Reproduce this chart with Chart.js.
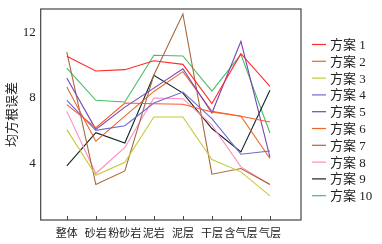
<!DOCTYPE html>
<html lang="zh">

<head>
    <title>均方根误差</title>
    <meta charset="utf-8">
    <script src="https://cdn.jsdelivr.net/npm/chart.js@4.4.0/dist/chart.umd.min.js"></script>
    <style>
        html, body { margin: 0; padding: 0; background: #fff; }
        #wrap { width: 382px; height: 244px; }
    </style>
</head>

<body>
    <div id="wrap"><canvas id="rmseChart"></canvas></div>
    <script type="text/javascript">
    // categories along the x axis
    var categories = ["整体", "砂岩", "粉砂岩", "泥岩", "泥层", "干层", "含气层", "气层"];
    var yTicks = [4, 8, 12];

    // one array per scheme
    var plan1 = [10.53, 9.64, 9.72, 10.26, 10.04, 7.66, 10.69, 8.71];
    var plan2 = [7.60, 6.20, 7.70, 7.65, 7.62, 7.15, 6.89, 6.55];
    var plan3 = [6.08, 3.31, 4.10, 6.85, 6.85, 4.27, 3.52, 2.06];
    var plan4 = [7.86, 6.04, 6.32, 7.70, 8.36, 6.75, 4.59, 4.79];
    var plan5 = [9.21, 6.10, 7.45, 8.60, 9.78, 7.09, 11.44, 4.42];
    var plan6 = [8.67, 5.38, 6.90, 8.40, 9.60, 7.20, 6.89, 4.33];
    var plan7 = [10.79, 2.75, 3.58, 9.40, 13.10, 3.38, 3.72, 2.75];
    var plan8 = [7.19, 3.42, 5.00, 8.00, 7.96, 6.35, 3.82, 2.75];
    var plan9 = [3.88, 5.90, 5.27, 9.38, 8.30, 6.15, 4.73, 8.47];
    var plan10 = [9.82, 7.86, 7.76, 10.59, 10.55, 8.42, 10.65, 5.88];

    var names = ["方案 1", "方案 2", "方案 3", "方案 4", "方案 5", "方案 6", "方案 7", "方案 8", "方案 9", "方案 10"];
    var series = [plan1, plan2, plan3, plan4, plan5, plan6, plan7, plan8, plan9, plan10];
    var colors = ["#ff2a2a", "#ff5a2a", "#c8c83a", "#6a6ad0", "#7a44b0", "#e8682a", "#a8683a", "#ff8cc0", "#122424", "#48bb66"];

    var serif = "'Liberation Serif', 'Noto Sans CJK SC', serif";

    var datasets = series.map(function(vals, i) {
        return {
            label: names[i],
            data: vals.map(function(v, j) { return { x: j, y: v }; }),
            borderColor: colors[i],
            backgroundColor: colors[i],
            borderWidth: 1.1,
            pointRadius: 0,
            tension: 0,
            fill: false
        };
    });

    // frame, inward x ticks and the legend on the right
    var extras = {
        id: "extras",
        afterDraw: function(chart) {
            var ctx = chart.ctx;
            var a = chart.chartArea;
            ctx.save();
            ctx.strokeStyle = "#444";
            ctx.lineWidth = 1.2;
            ctx.strokeRect(a.left, a.top, a.right - a.left, a.bottom - a.top);
            var xs = chart.scales.x;
            ctx.lineWidth = 1;
            for (var i = 0; i < categories.length; i++) {
                var px = Math.round(xs.getPixelForValue(i)) + 0.5;
                ctx.beginPath();
                ctx.moveTo(px, a.bottom);
                ctx.lineTo(px, a.bottom - 4);
                ctx.stroke();
            }
            ctx.font = "13px " + serif;
            ctx.textBaseline = "middle";
            ctx.textAlign = "left";
            for (var k = 0; k < names.length; k++) {
                var ly = 44.5 + k * 16.8;
                ctx.strokeStyle = colors[k];
                ctx.lineWidth = 1.2;
                ctx.beginPath();
                ctx.moveTo(312, ly);
                ctx.lineTo(326, ly);
                ctx.stroke();
                ctx.fillStyle = "#222";
                ctx.fillText(names[k], 330, ly + 1);
            }
            ctx.restore();
        }
    };

    var chart = new Chart(document.getElementById("rmseChart"), {
        type: "line",
        data: { datasets: datasets },
        options: {
            responsive: true,
            maintainAspectRatio: false,
            animation: false,
            layout: { padding: { top: 9, right: 81, left: 0, bottom: 0 } },
            plugins: {
                legend: { display: false },
                tooltip: { enabled: false }
            },
            scales: {
                x: {
                    type: "linear",
                    min: -0.9,
                    max: 8.07,
                    afterBuildTicks: function(scale) {
                        scale.ticks = categories.map(function(c, i) { return { value: i }; });
                    },
                    afterFit: function(scale) {
                        scale.height = 24;
                        scale.paddingLeft = 0;
                        scale.paddingRight = 0;
                    },
                    grid: { display: false },
                    border: { display: false },
                    ticks: {
                        autoSkip: false,
                        maxRotation: 0,
                        padding: 0,
                        color: "#222",
                        font: { size: 11, family: serif },
                        callback: function(v) { return categories[v]; }
                    }
                },
                y: {
                    min: 0.6,
                    max: 13.4,
                    afterBuildTicks: function(scale) {
                        scale.ticks = yTicks.map(function(v) { return { value: v }; });
                    },
                    afterFit: function(scale) {
                        scale.width = 40.7;
                        scale.paddingTop = 0;
                        scale.paddingBottom = 0;
                    },
                    grid: { display: false, drawTicks: false },
                    border: { display: false },
                    ticks: {
                        padding: 5,
                        color: "#222",
                        font: { size: 13, family: serif }
                    },
                    title: {
                        display: true,
                        text: "均方根误差",
                        color: "#222",
                        padding: { top: 5, bottom: 0 },
                        font: { size: 13, family: serif }
                    }
                }
            }
        },
        plugins: [extras]
    });
    </script>
</body>

</html>
